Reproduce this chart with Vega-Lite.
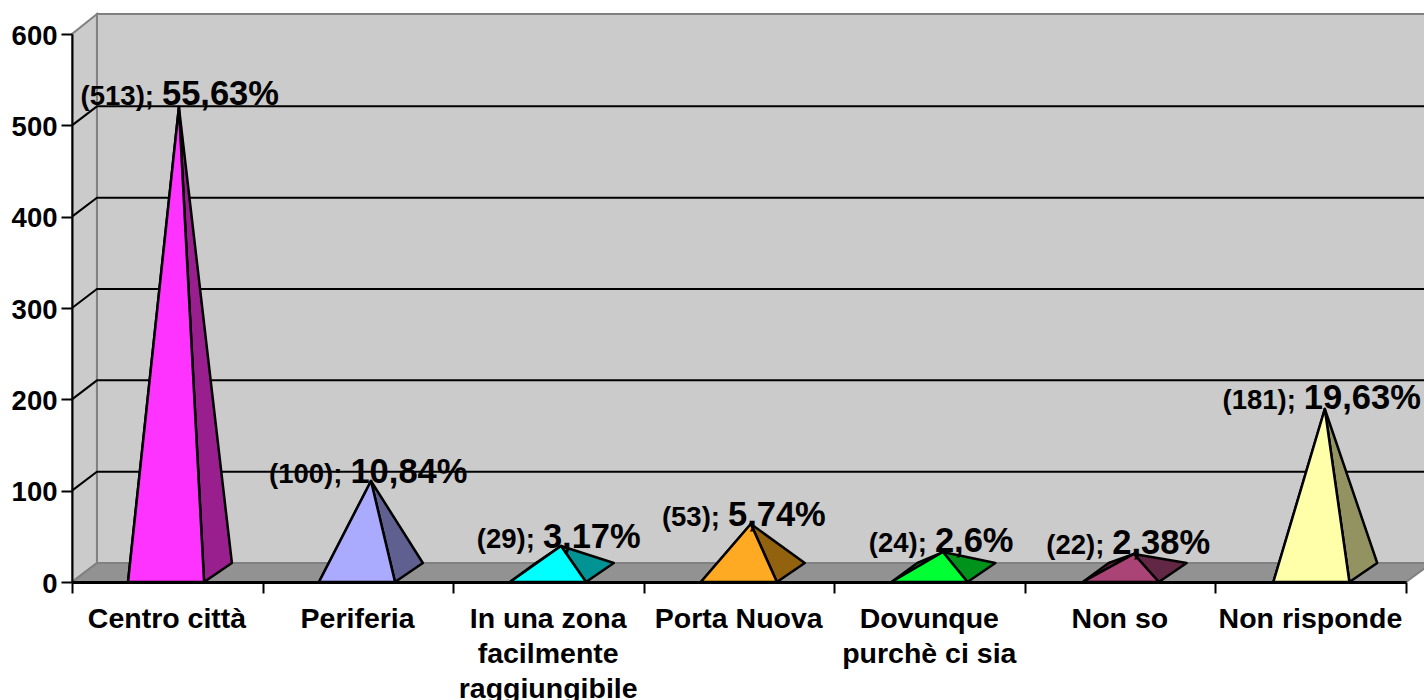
{"$schema":"https://vega.github.io/schema/vega-lite/v6.json","width":1334,"height":548,"autosize":{"type":"none"},"padding":{"left":72,"top":34,"right":18,"bottom":118},"background":"#ffffff","config":{"view":{"stroke":null},"font":"Liberation Sans"},
"datasets":{
"room":[
{"part":"side","i":0,"x":0,"y":0},{"part":"side","i":1,"x":0,"y":600},{"part":"side","i":2,"x":0.131,"y":621.8},{"part":"side","i":3,"x":0.131,"y":20.8},{"part":"side","i":4,"x":0,"y":0},
{"part":"back","i":0,"x":0.131,"y":20.8},{"part":"back","i":1,"x":0.131,"y":621.8},{"part":"back","i":2,"x":7.1,"y":621.8},{"part":"back","i":3,"x":7.1,"y":20.8},{"part":"back","i":4,"x":0.131,"y":20.8},
{"part":"floor","i":0,"x":0,"y":0},{"part":"floor","i":1,"x":0.131,"y":20.8},{"part":"floor","i":2,"x":7.1,"y":20.8},{"part":"floor","i":3,"x":7.1,"y":15.3},{"part":"floor","i":4,"x":7,"y":0},{"part":"floor","i":5,"x":0,"y":0}],
"grid":[
{"v":100,"i":0,"x":0,"y":100},{"v":100,"i":1,"x":0.131,"y":120.8},{"v":100,"i":2,"x":7.1,"y":120.8},
{"v":200,"i":0,"x":0,"y":200},{"v":200,"i":1,"x":0.131,"y":220.8},{"v":200,"i":2,"x":7.1,"y":220.8},
{"v":300,"i":0,"x":0,"y":300},{"v":300,"i":1,"x":0.131,"y":320.8},{"v":300,"i":2,"x":7.1,"y":320.8},
{"v":400,"i":0,"x":0,"y":400},{"v":400,"i":1,"x":0.131,"y":420.8},{"v":400,"i":2,"x":7.1,"y":420.8},
{"v":500,"i":0,"x":0,"y":500},{"v":500,"i":1,"x":0.131,"y":520.8},{"v":500,"i":2,"x":7.1,"y":520.8}],
"faces":[
{"face":"a-left","tint":"a-dark","i":0,"x":0.294,"y":0},{"face":"a-left","tint":"a-dark","i":1,"x":0.43,"y":20.8},{"face":"a-left","tint":"a-dark","i":2,"x":0.561,"y":520},{"face":"a-left","tint":"a-dark","i":3,"x":0.294,"y":0},
{"face":"a-right","tint":"a-dark","i":0,"x":0.693,"y":0},{"face":"a-right","tint":"a-dark","i":1,"x":0.839,"y":20.8},{"face":"a-right","tint":"a-dark","i":2,"x":0.561,"y":520},{"face":"a-right","tint":"a-dark","i":3,"x":0.693,"y":0},
{"face":"a-front","tint":"a-light","i":0,"x":0.294,"y":0},{"face":"a-front","tint":"a-light","i":1,"x":0.693,"y":0},{"face":"a-front","tint":"a-light","i":2,"x":0.561,"y":520},{"face":"a-front","tint":"a-light","i":3,"x":0.294,"y":0},
{"face":"b-left","tint":"b-dark","i":0,"x":1.296,"y":0},{"face":"b-left","tint":"b-dark","i":1,"x":1.432,"y":20.8},{"face":"b-left","tint":"b-dark","i":2,"x":1.569,"y":110.6},{"face":"b-left","tint":"b-dark","i":3,"x":1.296,"y":0},
{"face":"b-right","tint":"b-dark","i":0,"x":1.695,"y":0},{"face":"b-right","tint":"b-dark","i":1,"x":1.841,"y":20.8},{"face":"b-right","tint":"b-dark","i":2,"x":1.569,"y":110.6},{"face":"b-right","tint":"b-dark","i":3,"x":1.695,"y":0},
{"face":"b-front","tint":"b-light","i":0,"x":1.296,"y":0},{"face":"b-front","tint":"b-light","i":1,"x":1.695,"y":0},{"face":"b-front","tint":"b-light","i":2,"x":1.569,"y":110.6},{"face":"b-front","tint":"b-light","i":3,"x":1.296,"y":0},
{"face":"c-left","tint":"c-dark","i":0,"x":2.298,"y":0},{"face":"c-left","tint":"c-dark","i":1,"x":2.434,"y":20.8},{"face":"c-left","tint":"c-dark","i":2,"x":2.566,"y":39.4},{"face":"c-left","tint":"c-dark","i":3,"x":2.298,"y":0},
{"face":"c-right","tint":"c-dark","i":0,"x":2.697,"y":0},{"face":"c-right","tint":"c-dark","i":1,"x":2.843,"y":20.8},{"face":"c-right","tint":"c-dark","i":2,"x":2.566,"y":39.4},{"face":"c-right","tint":"c-dark","i":3,"x":2.697,"y":0},
{"face":"c-front","tint":"c-light","i":0,"x":2.298,"y":0},{"face":"c-front","tint":"c-light","i":1,"x":2.697,"y":0},{"face":"c-front","tint":"c-light","i":2,"x":2.566,"y":39.4},{"face":"c-front","tint":"c-light","i":3,"x":2.298,"y":0},
{"face":"d-left","tint":"d-dark","i":0,"x":3.3,"y":0},{"face":"d-left","tint":"d-dark","i":1,"x":3.436,"y":20.8},{"face":"d-left","tint":"d-dark","i":2,"x":3.562,"y":63.5},{"face":"d-left","tint":"d-dark","i":3,"x":3.3,"y":0},
{"face":"d-right","tint":"d-dark","i":0,"x":3.699,"y":0},{"face":"d-right","tint":"d-dark","i":1,"x":3.845,"y":20.8},{"face":"d-right","tint":"d-dark","i":2,"x":3.562,"y":63.5},{"face":"d-right","tint":"d-dark","i":3,"x":3.699,"y":0},
{"face":"d-front","tint":"d-light","i":0,"x":3.3,"y":0},{"face":"d-front","tint":"d-light","i":1,"x":3.699,"y":0},{"face":"d-front","tint":"d-light","i":2,"x":3.562,"y":63.5},{"face":"d-front","tint":"d-light","i":3,"x":3.3,"y":0},
{"face":"e-left","tint":"e-dark","i":0,"x":4.3,"y":0},{"face":"e-left","tint":"e-dark","i":1,"x":4.436,"y":20.8},{"face":"e-left","tint":"e-dark","i":2,"x":4.57,"y":32.8},{"face":"e-left","tint":"e-dark","i":3,"x":4.3,"y":0},
{"face":"e-right","tint":"e-dark","i":0,"x":4.699,"y":0},{"face":"e-right","tint":"e-dark","i":1,"x":4.845,"y":20.8},{"face":"e-right","tint":"e-dark","i":2,"x":4.57,"y":32.8},{"face":"e-right","tint":"e-dark","i":3,"x":4.699,"y":0},
{"face":"e-front","tint":"e-light","i":0,"x":4.3,"y":0},{"face":"e-front","tint":"e-light","i":1,"x":4.699,"y":0},{"face":"e-front","tint":"e-light","i":2,"x":4.57,"y":32.8},{"face":"e-front","tint":"e-light","i":3,"x":4.3,"y":0},
{"face":"f-left","tint":"f-dark","i":0,"x":5.304,"y":0},{"face":"f-left","tint":"f-dark","i":1,"x":5.44,"y":20.8},{"face":"f-left","tint":"f-dark","i":2,"x":5.572,"y":30.7},{"face":"f-left","tint":"f-dark","i":3,"x":5.304,"y":0},
{"face":"f-right","tint":"f-dark","i":0,"x":5.703,"y":0},{"face":"f-right","tint":"f-dark","i":1,"x":5.849,"y":20.8},{"face":"f-right","tint":"f-dark","i":2,"x":5.572,"y":30.7},{"face":"f-right","tint":"f-dark","i":3,"x":5.703,"y":0},
{"face":"f-front","tint":"f-light","i":0,"x":5.304,"y":0},{"face":"f-front","tint":"f-light","i":1,"x":5.703,"y":0},{"face":"f-front","tint":"f-light","i":2,"x":5.572,"y":30.7},{"face":"f-front","tint":"f-light","i":3,"x":5.304,"y":0},
{"face":"g-left","tint":"g-dark","i":0,"x":6.304,"y":0},{"face":"g-left","tint":"g-dark","i":1,"x":6.44,"y":20.8},{"face":"g-left","tint":"g-dark","i":2,"x":6.574,"y":189.4},{"face":"g-left","tint":"g-dark","i":3,"x":6.304,"y":0},
{"face":"g-right","tint":"g-dark","i":0,"x":6.703,"y":0},{"face":"g-right","tint":"g-dark","i":1,"x":6.849,"y":20.8},{"face":"g-right","tint":"g-dark","i":2,"x":6.574,"y":189.4},{"face":"g-right","tint":"g-dark","i":3,"x":6.703,"y":0},
{"face":"g-front","tint":"g-light","i":0,"x":6.304,"y":0},{"face":"g-front","tint":"g-light","i":1,"x":6.703,"y":0},{"face":"g-front","tint":"g-light","i":2,"x":6.574,"y":189.4},{"face":"g-front","tint":"g-light","i":3,"x":6.304,"y":0}],
"labels":[
{"category":"Centro città","count":513,"countText":"(513);","share":"55,63%","x":0.451},
{"category":"Periferia","count":100,"countText":"(100);","share":"10,84%","x":1.44},
{"category":"In una zona facilmente raggiungibile","count":29,"countText":"(29);","share":"3,17%","x":2.45},
{"category":"Porta Nuova","count":53,"countText":"(53);","share":"5,74%","x":3.421},
{"category":"Dovunque purchè ci sia","count":24,"countText":"(24);","share":"2,6%","x":4.507},
{"category":"Non so","count":22,"countText":"(22);","share":"2,38%","x":5.438},
{"category":"Non risponde","count":181,"countText":"(181);","share":"19,63%","x":6.443}]},
"layer":[
{"data":{"name":"room"},"mark":{"type":"line","stroke":"#808080","strokeWidth":2,"strokeJoin":"miter"},
"encoding":{
"x":{"field":"x","type":"quantitative","scale":{"domain":[0,7],"nice":false,"zero":false},"axis":{"title":null,"values":[0,1,2,3,4,5,6,7],"zindex":1,"grid":false,"domainColor":"#000000","domainWidth":3,"tickColor":"#000000","tickWidth":2,"tickSize":11,"labelOffset":94.5,"labelPadding":11,"labelLimit":500,"labelFont":"Liberation Sans","labelFontSize":28.5,"labelFontWeight":"bold","labelColor":"#000000","labelBaseline":"top","labelAlign":"center","labelLineHeight":35,"labelOverlap":false,"labelBound":false,"labelFlush":false,"labelExpr":"datum.value==0?'Centro città':datum.value==1?'Periferia':datum.value==2?['In una zona','facilmente','raggiungibile']:datum.value==3?'Porta Nuova':datum.value==4?['Dovunque','purchè ci sia']:datum.value==5?'Non so':datum.value==6?'Non risponde':''"}},
"y":{"field":"y","type":"quantitative","scale":{"domain":[0,600],"nice":false,"zero":false},"axis":{"title":null,"values":[0,100,200,300,400,500,600],"zindex":1,"grid":false,"domainColor":"#000000","domainWidth":2,"tickColor":"#000000","tickWidth":2,"tickSize":11,"labelPadding":4,"labelOffset":2,"labelFont":"Liberation Sans","labelFontSize":27.5,"labelFontWeight":"bold","labelColor":"#000000"}},
"order":{"field":"i"},"detail":{"field":"part"},
"fill":{"field":"part","type":"nominal","legend":null,"scale":{"domain":["side","back","floor"],"range":["#cbcbcb","#cbcbcb","#929292"]}}}},
{"data":{"name":"grid"},"mark":{"type":"line","stroke":"#000000","strokeWidth":2},"encoding":{"x":{"field":"x","type":"quantitative"},"y":{"field":"y","type":"quantitative"},"order":{"field":"i"},"detail":{"field":"v"}}},
{"data":{"name":"faces"},"mark":{"type":"line","stroke":"#000000","strokeWidth":2.5,"strokeJoin":"round"},"encoding":{"x":{"field":"x","type":"quantitative"},"y":{"field":"y","type":"quantitative"},"order":{"field":"i"},"detail":{"field":"face"},
"fill":{"field":"tint","type":"nominal","legend":null,"scale":{"domain":["a-light","a-dark","b-light","b-dark","c-light","c-dark","d-light","d-dark","e-light","e-dark","f-light","f-dark","g-light","g-dark"],"range":["#ff33ff","#991f8f","#aaaaff","#606090","#00ffff","#009393","#ffaa22","#93620f","#00ff33","#00931c","#aa4477","#622744","#ffffaa","#939362"]}}}},
{"data":{"name":"labels"},"mark":{"type":"text","align":"right","baseline":"alphabetic","dx":-4,"dy":-8,"font":"Liberation Sans","fontWeight":"bold","fontSize":27.5,"color":"#000000"},"encoding":{"x":{"field":"x","type":"quantitative"},"y":{"field":"count","type":"quantitative"},"text":{"field":"countText"}}},
{"data":{"name":"labels"},"mark":{"type":"text","align":"left","baseline":"alphabetic","dx":4,"dy":-8,"font":"Liberation Sans","fontWeight":"bold","fontSize":34.5,"color":"#000000"},"encoding":{"x":{"field":"x","type":"quantitative"},"y":{"field":"count","type":"quantitative"},"text":{"field":"share"}}}
],"resolve":{"scale":{"fill":"independent"}}}
